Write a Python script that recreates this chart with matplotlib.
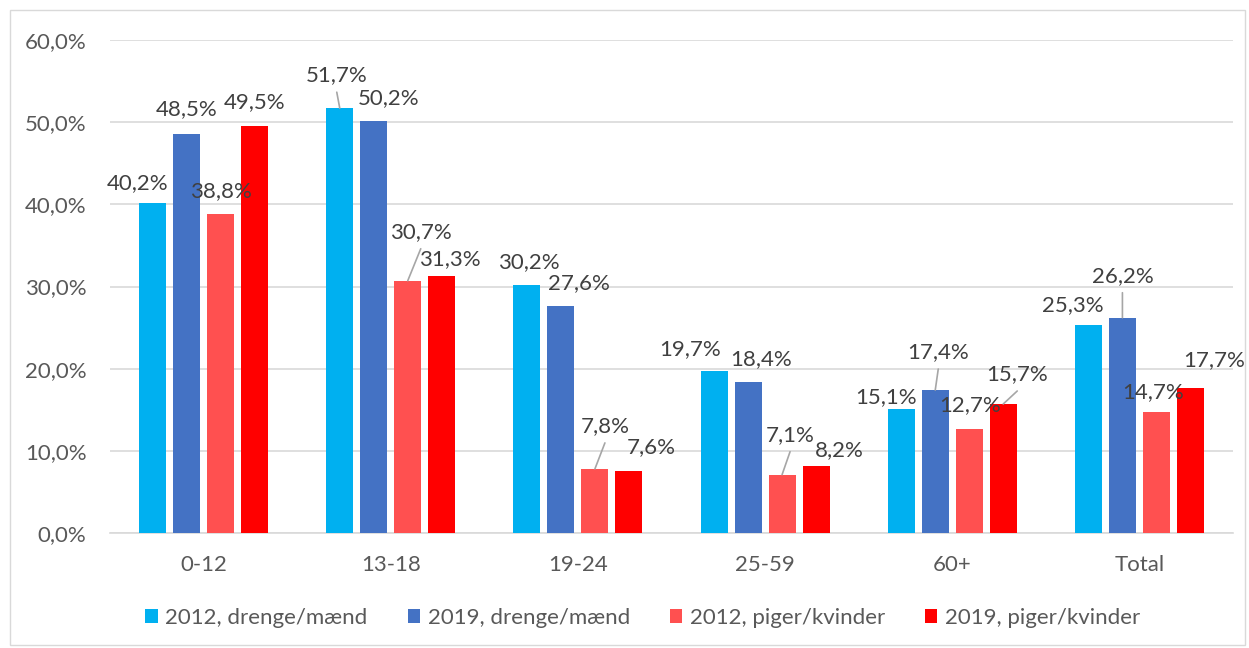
import numpy as np
import matplotlib
matplotlib.use("Agg")
import matplotlib.pyplot as plt
from matplotlib.patches import Rectangle

plt.rcParams["font.family"] = ["Lato", "DejaVu Sans"]

# ── data ───────────────────────────────────────────────────────────────────────
categories = ["0-12", "13-18", "19-24", "25-59", "60+", "Total"]
series     = ["2012, drenge/mænd", "2019, drenge/mænd",
              "2012, piger/kvinder", "2019, piger/kvinder"]
boys_2012  = [40.2, 51.7, 30.2, 19.7, 15.1, 25.3]
boys_2019  = [48.5, 50.2, 27.6, 18.4, 17.4, 26.2]
girls_2012 = [38.8, 30.7, 7.8, 7.1, 12.7, 14.7]
girls_2019 = [49.5, 31.3, 7.6, 8.2, 15.7, 17.7]
yticks     = [0, 10, 20, 30, 40, 50, 60]

colors = ["#00B0F0", "#4472C4", "#FF5050", "#FF0000"]
FS = 16

# label placement (offset in pixels from bar top: dx, dy) and leader-line flags
label_offsets = [
    [(-15, 20), (-3, 33), (2, 23), (-24, 22), (-15, 12), (-16, 20)],
    [(0, 25), (15, 22), (18, 23), (13, 23), (3, 38), (0, 42)],
    [(0, 23), (13, 49), (10, 43), (8, 40), (1, 24), (-3, 20)],
    [(0, 24), (8, 17), (22, 23), (23, 16), (14, 30), (24, 27)],
]
leaders = [
    [False, True, False, False, False, False],
    [False, False, False, False, True, True],
    [False, True, True, True, False, False],
    [False, False, False, False, True, False],
]

# ── plot ───────────────────────────────────────────────────────────────────────
fig = plt.figure(figsize=(12.49, 6.48), dpi=100)
ax = fig.add_axes([110 / 1249, 1 - 533 / 648, 1123 / 1249, 493 / 648])

fig.patches.append(Rectangle((10 / 1249, 3 / 648), 1235 / 1249, 635 / 648,
                             transform=fig.transFigure, fill=False,
                             edgecolor="#D9D9D9", linewidth=1))

x = np.arange(len(categories))
step, width = 0.1816, 0.144
all_vals = [boys_2012, boys_2019, girls_2012, girls_2019]

for i, (name, vals) in enumerate(zip(series, all_vals)):
    bars = ax.bar(x + (i - 1.5) * step, vals, width, color=colors[i],
                  label=name, zorder=3)
    for j, rect in enumerate(bars):
        bx = rect.get_x() + rect.get_width() / 2
        h = rect.get_height()
        dx, dy = label_offsets[i][j]
        ax.annotate(f"{h:.1f}%".replace(".", ","), xy=(bx, h),
                    xytext=(dx, dy), textcoords="offset pixels",
                    ha="center", va="center", fontsize=FS,
                    color="#404040", zorder=5)
        if leaders[i][j]:
            ax.annotate("", xy=(bx, h), xytext=(dx, dy - 17),
                        textcoords="offset pixels",
                        arrowprops=dict(arrowstyle="-", color="#A6A6A6",
                                        lw=1.2, shrinkA=0, shrinkB=0),
                        zorder=4)

ax.set_xlim(-0.5, len(categories) - 0.5)
ax.set_ylim(0, 60)
ax.set_yticks(yticks)
ax.set_yticklabels([f"{t:.1f}%".replace(".", ",") for t in yticks])
ax.set_xticks(x)
ax.set_xticklabels(categories)
ax.tick_params(axis="both", length=0, labelsize=FS, labelcolor="#595959")
ax.tick_params(axis="y", pad=17)
ax.tick_params(axis="x", pad=16)
ax.yaxis.grid(True, color="#D9D9D9", linewidth=1.2, zorder=0)
for side in ["top", "right", "left"]:
    ax.spines[side].set_visible(False)
ax.spines["bottom"].set_color("#D9D9D9")
ax.spines["bottom"].set_linewidth(1.2)

fig.legend(loc="center", bbox_to_anchor=(643 / 1249, 1 - 618 / 648), ncol=4,
           frameon=False, fontsize=FS, handlelength=0.55, handleheight=0.55,
           handletextpad=0.35, columnspacing=1.8, labelcolor="#595959")

fig.savefig("out.png", dpi=100)
